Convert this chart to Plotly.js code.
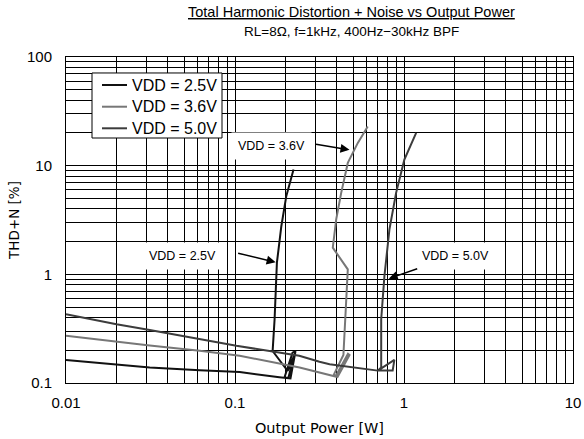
<!DOCTYPE html>
<html>
<head>
<meta charset="utf-8">
<script src="https://cdn.plot.ly/plotly-3.0.1.min.js"></script>
<style>html,body{margin:0;padding:0;background:#fff;}#chart{width:584px;height:439px;}</style>
</head>
<body>
<div id="chart"></div>
<script>
// ---- data ----
const seriesNames = ['VDD = 2.5V', 'VDD = 3.6V', 'VDD = 5.0V'];

const p25 = [0.01, 0.0199, 0.0313, 0.0618, 0.1066, 0.183, 0.213, 0.228, 0.219, 0.196, 0.207, 0.224, 0.205, 0.167, 0.1715, 0.177, 0.188, 0.201, 0.222];
const t25 = [0.163, 0.149, 0.139, 0.131, 0.126, 0.113, 0.110, 0.196, 0.19, 0.112, 0.112, 0.18, 0.129, 0.197, 0.386, 1.28, 2.77, 5.22, 9.2];

const p36 = [0.01, 0.0199, 0.0313, 0.0618, 0.1066, 0.241, 0.316, 0.371, 0.404, 0.476, 0.466, 0.395, 0.385, 0.438, 0.465, 0.379, 0.397, 0.425, 0.465, 0.533, 0.61];
const t36 = [0.272, 0.239, 0.221, 0.198, 0.178, 0.139, 0.126, 0.117, 0.1135, 0.181, 0.186, 0.116, 0.12, 0.181, 1.11, 1.76, 3.2, 5.62, 10.6, 16.2, 22.9];

const p50 = [0.01, 0.0199, 0.0313, 0.0618, 0.1019, 0.167, 0.24, 0.316, 0.363, 0.70, 0.857, 0.877, 0.70, 0.733, 0.733, 0.766, 0.82, 0.898, 1.005, 1.18];
const t50 = [0.43, 0.348, 0.308, 0.253, 0.22, 0.195, 0.178, 0.157, 0.149, 0.13, 0.13, 0.163, 0.13, 0.139, 0.386, 0.965, 2.59, 5.62, 11.4, 20];

const xDecades = [0.01, 0.1, 1, 10];
const xTickText = ['0.01', '0.1', '1', '10'];
const yDecades = [0.1, 1, 10, 100];
const yTickText = ['0.1', '1', '10', '100'];

const titleLine1 = 'Total Harmonic Distortion + Noise vs Output Power';
const titleLine2 = 'RL=8Ω, f=1kHz, 400Hz−30kHz BPF';
const xTitle = 'Output Power [W]';
const yTitle = 'THD+N [%]';

// ---- helpers ----
function logTicks(decades, labels) {
  const vals = [], text = [];
  for (let i = 0; i < decades.length; i++) {
    if (i === decades.length - 1) { vals.push(decades[i]); text.push(labels[i]); break; }
    for (let m = 1; m <= 9; m++) {
      vals.push(+(decades[i] * m).toPrecision(6));
      text.push(m === 1 ? labels[i] : '');
    }
  }
  return {vals, text};
}
const xt = logTicks(xDecades, xTickText);
const yt = logTicks(yDecades, yTickText);

const FONT = 'Liberation Sans, Arial, sans-serif';
const WIDE = 'DejaVu Sans, Verdana, sans-serif';
const colors = ['#111111', '#777777', '#3c3c3c'];
const lw = 2;

const traces = [
  {x: p25, y: t25, name: seriesNames[0], mode: 'lines', line: {color: colors[0], width: lw}},
  {x: p36, y: t36, name: seriesNames[1], mode: 'lines', line: {color: colors[1], width: lw}},
  {x: p50, y: t50, name: seriesNames[2], mode: 'lines', line: {color: colors[2], width: lw}}
];

// manual legend box (paper coords)
const legBox = {x0: 0.0513, x1: 0.3077, y0: 0.7515, y1: 0.951};
const legRows = [0.9141, 0.8475, 0.7813];
const shapes = [{type: 'rect', xref: 'paper', yref: 'paper', x0: legBox.x0, x1: legBox.x1, y0: legBox.y0, y1: legBox.y1,
  fillcolor: '#fff', line: {color: '#000', width: 1}, layer: 'above'}];
const legendAnn = [];
seriesNames.forEach((n, i) => {
  shapes.push({type: 'line', xref: 'paper', yref: 'paper', x0: 0.071, x1: 0.1203, y0: legRows[i], y1: legRows[i],
    line: {color: colors[i], width: 2}, layer: 'above'});
  legendAnn.push({xref: 'paper', yref: 'paper', x: 0.1262, y: legRows[i], xanchor: 'left', yanchor: 'middle',
    text: n, showarrow: false, font: {family: FONT, size: 16, color: '#000'}});
});

const annFont = {family: FONT, size: 12.5, color: '#000'};
const arrowStyle = {showarrow: true, arrowhead: 2, arrowsize: 1.2, arrowwidth: 1.5, arrowcolor: '#000', standoff: 0, text: ' '};
const layout = {
  width: 584, height: 439,
  margin: {l: 66, r: 11, t: 57, b: 56},
  paper_bgcolor: '#fff', plot_bgcolor: '#fff',
  font: {family: FONT, size: 14, color: '#000'},
  showlegend: false,
  xaxis: {
    type: 'log', range: [-2, 1],
    tickmode: 'array', tickvals: xt.vals, ticktext: xt.text,
    showgrid: true, gridcolor: '#000', gridwidth: 1,
    showline: true, linecolor: '#000', linewidth: 1, mirror: true,
    ticks: '', ticklabelstandoff: 6,
    tickfont: {family: FONT, size: 15},
    title: {text: xTitle, font: {family: WIDE, size: 14.5}, standoff: 12}
  },
  yaxis: {
    type: 'log', range: [-1, 2],
    tickmode: 'array', tickvals: yt.vals, ticktext: yt.text,
    showgrid: true, gridcolor: '#000', gridwidth: 1,
    showline: true, linecolor: '#000', linewidth: 1, mirror: true,
    ticks: '', ticklabelstandoff: 10,
    tickfont: {family: FONT, size: 15},
    title: {text: yTitle, font: {family: WIDE, size: 13.5}, standoff: 4}
  },
  shapes: shapes,
  annotations: [
    {xref: 'paper', yref: 'paper', x: 0.564, y: 1.138, xanchor: 'center', yanchor: 'middle', showarrow: false,
     text: '<u>' + titleLine1 + '</u>', font: {family: FONT, size: 14.5, color: '#000'}},
    {xref: 'paper', yref: 'paper', x: 0.564, y: 1.0767, xanchor: 'center', yanchor: 'middle', showarrow: false,
     text: titleLine2, font: {family: FONT, size: 13.5, color: '#000'}},
    {x: Math.log10(0.1637), y: Math.log10(15.3), xref: 'x', yref: 'y', text: 'VDD = 3.6V', showarrow: false,
     font: annFont, bgcolor: '#fff', borderpad: 6},
    Object.assign({x: Math.log10(0.476), y: Math.log10(14.0), xref: 'x', yref: 'y', ax: -37, ay: -6}, arrowStyle),
    {x: Math.log10(0.049), y: Math.log10(1.49), xref: 'x', yref: 'y', text: 'VDD = 2.5V', showarrow: false,
     font: annFont, bgcolor: '#fff', borderpad: 6},
    Object.assign({x: Math.log10(0.174), y: Math.log10(1.29), xref: 'x', yref: 'y', ax: -41, ay: -10}, arrowStyle),
    {x: Math.log10(2.01), y: Math.log10(1.49), xref: 'x', yref: 'y', text: 'VDD = 5.0V', showarrow: false,
     font: annFont, bgcolor: '#fff', borderpad: 6},
    Object.assign({x: Math.log10(0.812), y: Math.log10(0.913), xref: 'x', yref: 'y', ax: 32, ay: -11}, arrowStyle)
  ].concat(legendAnn)
};

Plotly.newPlot('chart', traces, layout, {displayModeBar: false, staticPlot: true});
</script>
</body>
</html>
